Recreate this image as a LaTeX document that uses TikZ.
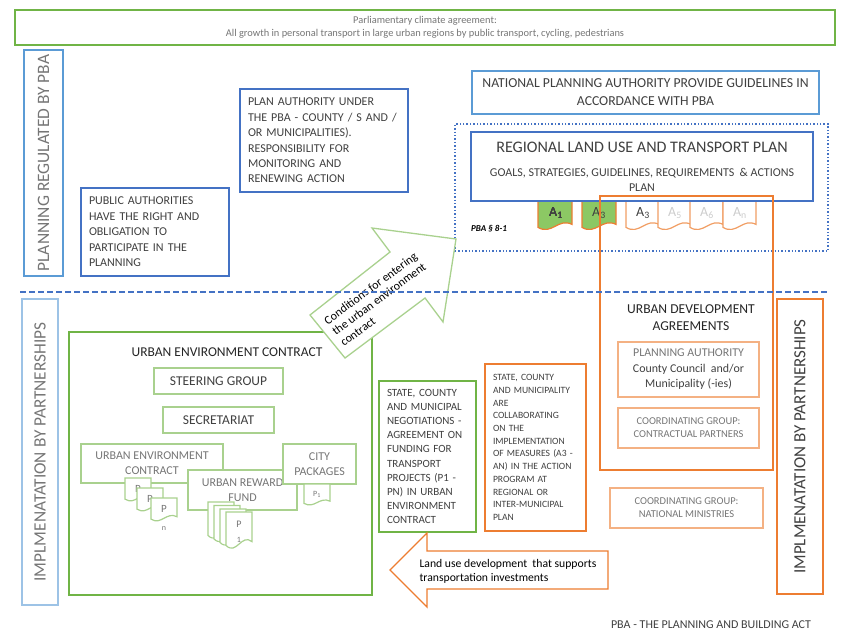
\documentclass[tikz,border=0pt]{standalone}
\usepackage{fontspec}
\setmainfont{Carlito}
\usetikzlibrary{positioning}

\definecolor{pbagreen}{RGB}{112,180,70}
\definecolor{lightgreen}{RGB}{169,209,142}
\definecolor{docgreen}{RGB}{140,200,100}
\definecolor{pbablue}{RGB}{68,114,196}
\definecolor{skyblue}{RGB}{91,155,213}
\definecolor{paleblue}{RGB}{157,195,230}
\definecolor{pbaorange}{RGB}{237,125,49}
\definecolor{lightorange}{RGB}{244,177,131}
\definecolor{txtgray}{RGB}{64,64,64}
\definecolor{midgray}{RGB}{118,118,118}
\definecolor{palegray}{RGB}{205,205,205}

\begin{document}
\begin{tikzpicture}[x=1pt, y=-1pt,
    box/.style={line width=1.5pt, inner sep=0pt, fill=white, text=txtgray},
    leftbox/.style={box, align=left, inner xsep=8pt},
    bar/.style={box, rotate=90},
    doclabel/.style={inner sep=0pt, text=txtgray}]

    % Page size
    \useasboundingbox (0,0) rectangle (850,638);

    % Document shape with a wavy bottom: style, x, y, width, height
    \def\pdoc#1#2#3#4#5{%
        \draw[#1] (#2,#3) -- ({#2+#4},#3) -- ({#2+#4},{#3+0.78*#5})
            .. controls ({#2+0.6*#4},{#3+0.55*#5}) and ({#2+0.4*#4},{#3+1.15*#5}) .. (#2,{#3+0.88*#5}) -- cycle;}

    % Parliamentary climate agreement
    \node[box, draw=pbagreen, minimum width=820pt, minimum height=35pt, align=center, text=midgray,
        font=\fontsize{10.4}{13}\selectfont] (climate) at (425,27.5)
        {Parliamentary climate agreement:\\All growth in personal transport in large urban regions by public transport, cycling, pedestrians};

    % Upper half: planning regulated by PBA
    \node[bar, draw=skyblue, minimum width=226pt, minimum height=39pt, text=midgray,
        font=\fontsize{17.4}{19}\selectfont] (planbar) at (43.5,163) {PLANNING REGULATED BY PBA};

    \node[leftbox, draw=pbablue, text width=152pt, minimum height=103pt, font=\fontsize{12}{15.4}\selectfont] (planauth) at (324,140.5)
        {PLAN AUTHORITY UNDER\\THE PBA - COUNTY / S AND /\\OR MUNICIPALITIES).\\RESPONSIBILITY FOR\\MONITORING AND\\RENEWING ACTION};

    \node[leftbox, draw=pbablue, text width=132pt, minimum height=88pt, font=\fontsize{12}{15.5}\selectfont] (public) at (155,232)
        {PUBLIC AUTHORITIES\\HAVE THE RIGHT AND\\OBLIGATION TO\\PARTICIPATE IN THE\\PLANNING};

    \node[box, draw=skyblue, line width=1.2pt, minimum width=347pt, minimum height=43pt, align=center,
        font=\fontsize{13.7}{18}\selectfont] (national) at (645.5,92.5)
        {NATIONAL PLANNING AUTHORITY PROVIDE GUIDELINES IN\\ACCORDANCE WITH PBA};

    % Dotted frame round the regional plan
    \node[draw=pbablue, dotted, line width=1.4pt, inner sep=0pt, minimum width=373pt, minimum height=127pt] (pbazone) at (641.5,187.5) {};

    % Actions A1 ... An
    \pdoc{pbaorange, fill=docgreen, line width=1.2pt}{538}{201}{34}{30}
    \pdoc{pbaorange, fill=docgreen, line width=1.2pt}{582}{201}{34}{30}
    \foreach \ax in {626,658,690,723}
        \pdoc{pbaorange!75, fill=white, line width=1.2pt}{\ax}{201}{33}{30}
    \node[doclabel, font=\fontsize{14}{16}\selectfont] (a1) at (556,213) {A\textsubscript{1}};
    \node[doclabel, font=\fontsize{14}{16}\selectfont] (a3g) at (599,213) {A\textsubscript{3}};
    \node[doclabel, font=\fontsize{14}{16}\selectfont] (a3) at (643,213) {A\textsubscript{3}};
    \node[doclabel, text=palegray, font=\fontsize{14}{16}\selectfont] (a5) at (675,213) {A\textsubscript{5}};
    \node[doclabel, text=palegray, font=\fontsize{14}{16}\selectfont] (a6) at (707,213) {A\textsubscript{6}};
    \node[doclabel, text=palegray, font=\fontsize{14}{16}\selectfont] (an) at (740,213) {A\textsubscript{n}};

    % Regional land use and transport plan
    \node[box, draw=pbablue, line width=1.8pt, fill=none, minimum width=342pt, minimum height=69pt] (regional) at (642,166.5) {};
    \node[text=txtgray, font=\fontsize{16.1}{18}\selectfont] (regtitle) at (642,147) {REGIONAL LAND USE AND TRANSPORT PLAN};
    \node[text=txtgray, align=center, font=\fontsize{12}{15}\selectfont] (regsub) at (642,180)
        {GOALS, STRATEGIES, GUIDELINES, REQUIREMENTS \ \& ACTIONS\\PLAN};

    \node[font=\bfseries\itshape\fontsize{9}{11}\selectfont] (pbasect) at (489,229) {PBA § 8-1};

    % Urban development agreements
    \node[draw=pbaorange, line width=2.2pt, inner sep=0pt, minimum width=173pt, minimum height=274pt] (uda) at (686.5,333) {};
    \node[align=center, text=black!85, font=\fontsize{13.6}{17}\selectfont] (udatitle) at (691,317.5) {URBAN DEVELOPMENT\\AGREEMENTS};

    \node[box, draw=lightorange, minimum width=141pt, minimum height=55pt, align=center,
        font=\fontsize{11.9}{15.5}\selectfont] (planning) at (688.5,369.5)
        {\textcolor{midgray}{PLANNING AUTHORITY}\\County Council \ and/or\\Municipality (-ies)};
    \node[box, draw=lightorange, minimum width=141pt, minimum height=40pt, align=center, text=midgray,
        font=\fontsize{10.5}{13}\selectfont] (partners) at (688.5,428)
        {COORDINATING GROUP:\\CONTRACTUAL PARTNERS};
    \node[box, draw=lightorange, minimum width=153pt, minimum height=40pt, align=center, text=midgray,
        font=\fontsize{10.5}{13}\selectfont] (ministries) at (686.5,508)
        {COORDINATING GROUP:\\NATIONAL MINISTRIES};

    % Lower half: implementation by partnerships
    \node[bar, draw=pbaorange, line width=2pt, minimum width=295pt, minimum height=46pt,
        font=\fontsize{17}{19}\selectfont] (implright) at (800,446.5) {IMPLMENATATION BY PARTNERSHIPS};
    \node[bar, draw=paleblue, minimum width=306pt, minimum height=36pt, text=midgray,
        font=\fontsize{17.3}{19}\selectfont] (implleft) at (40,452) {IMPLMENATATION BY PARTNERSHIPS};

    \node[text=txtgray, font=\fontsize{12}{14}\selectfont] (legend) at (711,625) {PBA - THE PLANNING AND BUILDING ACT};

    % Urban environment contract
    \node[box, draw=pbagreen, line width=2.2pt, minimum width=303pt, minimum height=263pt] (uec) at (220.5,463.5) {};
    \node[text=black!85, font=\fontsize{13.5}{16}\selectfont] (uectitle) at (227,352) {URBAN ENVIRONMENT CONTRACT};

    \node[box, draw=lightgreen, minimum width=129pt, minimum height=26pt, font=\fontsize{13.5}{16}\selectfont] (steering) at (218.5,381) {STEERING GROUP};
    \node[box, draw=lightgreen, minimum width=111pt, minimum height=26pt, font=\fontsize{13.5}{16}\selectfont] (secretariat) at (218.5,420) {SECRETARIAT};

    \node[box, draw=lightgreen, minimum width=142pt, minimum height=39pt, align=center, text=midgray,
        font=\fontsize{12}{15}\selectfont] (uecinner) at (152,463.5) {URBAN ENVIRONMENT\\CONTRACT};
    \foreach \px/\py in {125/478, 137/488, 151/498} {
        \pdoc{lightgreen, fill=white, line width=1.2pt}{\px}{\py}{26}{24}
        \node[doclabel, text=midgray, font=\fontsize{11}{13}\selectfont] at ({\px+13},{\py+11}) {P};
    }
    \node[doclabel, text=midgray, font=\fontsize{8}{10}\selectfont] (pn) at (164,529) {n};

    \node[box, draw=lightgreen, minimum width=109pt, minimum height=40pt, align=center, text=midgray,
        font=\fontsize{12}{15}\selectfont] (reward) at (242.5,490) {URBAN REWARD\\FUND};
    \foreach \px/\py in {208/502, 214/505.5, 220/509, 226/512}
        \pdoc{lightgreen, fill=white, line width=1.2pt}{\px}{\py}{26}{38}
    \node[doclabel, text=midgray, font=\fontsize{10}{12}\selectfont] (p1) at (239,524) {P};
    \node[doclabel, text=midgray, font=\fontsize{8}{10}\selectfont] (p1sub) at (239,540) {1};

    \node[box, draw=lightgreen, minimum width=73pt, minimum height=40pt, align=center, text=midgray,
        font=\fontsize{12}{15}\selectfont] (city) at (319.5,464) {CITY\\PACKAGES};
    \pdoc{lightgreen, fill=white, line width=1.2pt}{304}{484}{26}{22}
    \node[doclabel, text=midgray, font=\fontsize{8}{10}\selectfont] (cityp1) at (317,494) {P\textsubscript{1}};

    % Negotiations and collaboration
    \node[leftbox, draw=pbagreen, line width=2pt, inner xsep=8pt, text width=81pt, minimum height=151pt, font=\fontsize{11}{14.1}\selectfont] (negot) at (427.5,456.5)
        {STATE, COUNTY\\AND MUNICIPAL\\NEGOTIATIONS -\\AGREEMENT ON\\FUNDING FOR\\TRANSPORT\\PROJECTS (P1 -\\PN) IN URBAN\\ENVIRONMENT\\CONTRACT};
    \node[leftbox, draw=pbaorange, line width=2pt, inner xsep=8pt, text width=85pt, minimum height=167pt, font=\fontsize{9.6}{12.7}\selectfont] (collab) at (535.5,447.5)
        {STATE, COUNTY\\AND MUNICIPALITY\\ARE\\COLLABORATING\\ON THE\\IMPLEMENTATION\\OF MEASURES (A3 -\\AN) IN THE ACTION\\PROGRAM AT\\REGIONAL OR\\INTER-MUNICIPAL\\PLAN};

    % Block arrow: land use development
    \draw[pbaorange, line width=1.3pt, fill=white] (390,570) -- (427,533) -- (427,551) -- (608,551) -- (608,589) -- (427,589) -- (427,607) -- cycle;
    \node[anchor=west, align=left, font=\fontsize{11.7}{14}\selectfont] (landuse) at (416,571)
        {Land use development \ that supports\\transportation investments};

    % Block arrow: conditions for entering the contract
    \draw[lightgreen, line width=1.3pt, fill=white] (310,315) -- (390,252) -- (372,228) -- (456,239) -- (443,322) -- (425,298) -- (345,358) -- cycle;
    \node[rotate=36.5, align=left, font=\fontsize{12}{13.6}\selectfont] (conditions) at (379,299)
        {Conditions for entering\\the urban environment\\contract};

    % Dashed split between planning and implementation
    \coordinate (split west) at (20,292);
    \coordinate (split east) at (827,292);
    \draw[pbablue, line width=1.5pt, dash pattern=on 6pt off 3pt] (split west) -- (split east);
\end{tikzpicture}
\end{document}
